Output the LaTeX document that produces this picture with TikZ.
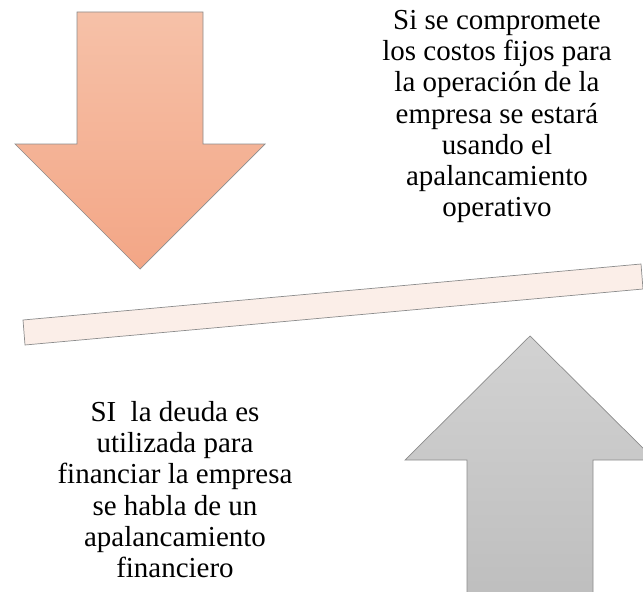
\documentclass[tikz,border=0pt]{standalone}
\usepackage{fontspec}
\setmainfont{Liberation Serif}
\definecolor{peachtop}{RGB}{246,193,168}
\definecolor{peachbot}{RGB}{243,166,134}
\definecolor{greytop}{RGB}{210,210,210}
\definecolor{greybot}{RGB}{190,190,190}
\definecolor{plank}{RGB}{251,238,232}
\tikzset{
  shape edge/.style={draw=black!45, line width=0.5pt, line join=miter},
  caption/.style={align=center, font=\fontsize{20.6}{22.2}\selectfont, inner sep=0pt}
}
\begin{document}
\begin{tikzpicture}[x=0.025cm, y=-0.025cm]
  \def\Xd{140};   % axis of the arrow pointing down
  \def\Xu{530};   % axis of the arrow pointing up
  \def\W{63};     % half width of the shaft
  \def\H{125};    % half width of the head
  \def\Ytop{12};
  \def\Yneck{144};
  \def\Ytip{269};
  \def\Yup{336};
  \def\Yshoulder{460};

  \useasboundingbox (0,0) rectangle (643,591);
  \clip (0,0) rectangle (643,591);

	% arrow down
        \draw [shape edge, top color=peachtop, bottom color=peachbot]
        (\Xd - \W, \Ytop) -- (\Xd + \W, \Ytop) -- (\Xd + \W, \Yneck)
        -- (\Xd + \H, \Yneck) -- (\Xd, \Ytip) -- (\Xd - \H, \Yneck)
        -- (\Xd - \W, \Yneck) -- cycle;

	% lever
        \draw [shape edge, fill=plank]
        (23, 320) -- (641, 264) -- (643, 289) -- (25, 345) -- cycle;

	% arrow up
        \draw [shape edge, top color=greytop, bottom color=greybot]
        (\Xu, \Yup) -- (\Xu + \H, \Yshoulder) -- (\Xu + \W, \Yshoulder)
        -- (\Xu + \W, 600) -- (\Xu - \W, 600) -- (\Xu - \W, \Yshoulder)
        -- (\Xu - \H, \Yshoulder) -- cycle;

	% labels
	\node [caption] (operativo) at (497, 116.5)
	{Si se compromete\\ los costos fijos para\\ la operación de la\\
	 empresa se estará\\ usando el\\ apalancamiento\\ operativo};
	\node [caption] (financiero) at (175, 489.5)
	{SI\ \ la deuda es\\ utilizada para\\ financiar la empresa\\
	 se habla de un\\ apalancamiento\\ financiero};

\end{tikzpicture}
\end{document}
